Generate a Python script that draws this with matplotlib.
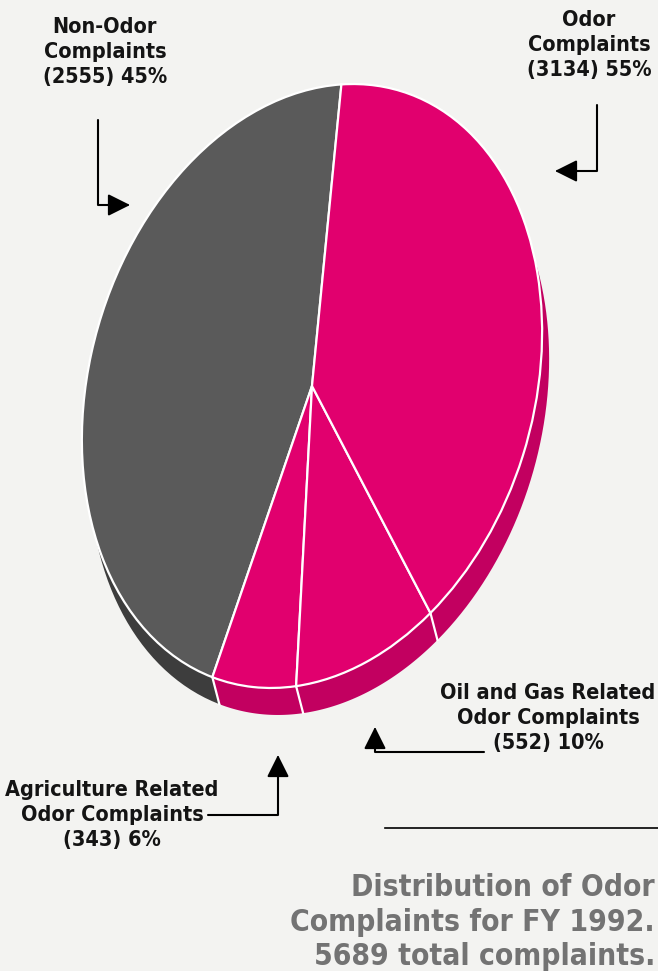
import matplotlib.pyplot as plt
from matplotlib.patches import Polygon
from matplotlib.transforms import Affine2D
import numpy as np

# Data
total = 5689
slice_names = ['Non-Odor', 'Agriculture Related Odor', 'Oil and Gas Related Odor', 'Other Odor']
slice_counts = [2555, 343, 552, 2239]
odor_count = 3134
top_colors = ['#5a5a5a', '#e1006e', '#e1006e', '#e1006e']
side_colors = ['#3d3d3d', '#c20060', '#c20060', '#c20060']

H = 971
fig = plt.figure(figsize=(6.58, 9.71), dpi=100)
fig.patch.set_facecolor('#f3f3f1')
ax = fig.add_axes([0, 0, 1, 1])
ax.set_facecolor('#f3f3f1')

# tilted ellipse standing in for the 3D disc
cx, cy = 312, H - 386
semi_major, semi_minor, tilt = 308, 222, -16.5
depth = (7, -27)
tr = Affine2D().scale(semi_minor, semi_major).rotate_deg(tilt).translate(cx, cy)

wedges, _ = ax.pie(slice_counts, startangle=105, counterclock=True, colors=top_colors,
                   wedgeprops=dict(edgecolor='white', linewidth=1.6), frame=True)
for w in wedges:
    w.set_transform(tr + ax.transData)
    w.set_zorder(3)

# side band of the disc
for w, c in zip(wedges, side_colors):
    t = np.radians(np.linspace(w.theta1, w.theta2, 80))
    rim = tr.transform(np.column_stack([np.cos(t), np.sin(t)]))
    low = rim + np.array(depth)
    ax.add_patch(Polygon(np.vstack([rim, low[::-1]]), closed=True, facecolor=c,
                         edgecolor='none', zorder=1))
    p0 = tr.transform([np.cos(t[0]), np.sin(t[0])])
    ax.plot([p0[0], p0[0] + depth[0]], [p0[1], p0[1] + depth[1]], color='white',
            lw=1.6, zorder=2)

ax.set_xlim(0, 658)
ax.set_ylim(0, H)
ax.set_aspect('auto')
ax.axis('off')

fnt = ['DejaVu Sans']
lbl = dict(ha='center', va='center', fontsize=15.5, fontweight='bold', family=fnt,
           fontstretch='condensed', color='#141414', linespacing=1.3)

def pct(n):
    return round(100 * n / total)

ax.text(105, H - 52, 'Non-Odor\nComplaints\n(%d) %d%%' % (slice_counts[0], pct(slice_counts[0])), **lbl)
ax.text(589, H - 45, 'Odor\nComplaints\n(%d) %d%%' % (odor_count, pct(odor_count)), **lbl)
ax.text(548, H - 718, 'Oil and Gas Related\nOdor Complaints\n(%d) %d%%' % (slice_counts[2], pct(slice_counts[2])), **lbl)
ax.text(112, H - 815, 'Agriculture Related\nOdor Complaints\n(%d) %d%%' % (slice_counts[1], pct(slice_counts[1])), **lbl)

arrow = dict(arrowstyle='-|>,head_length=0.9,head_width=0.45', color='black', lw=1.5,
             mutation_scale=15, shrinkA=0, shrinkB=0)
ax.annotate('', xy=(130, H - 205), xytext=(98, H - 120),
            arrowprops=dict(connectionstyle='angle,angleA=90,angleB=0,rad=0', **arrow))
ax.annotate('', xy=(555, H - 171), xytext=(597, H - 105),
            arrowprops=dict(connectionstyle='angle,angleA=90,angleB=0,rad=0', **arrow))
ax.annotate('', xy=(375, H - 727), xytext=(484, H - 752),
            arrowprops=dict(connectionstyle='angle,angleA=0,angleB=90,rad=0', **arrow))
ax.annotate('', xy=(278, H - 755), xytext=(208, H - 815),
            arrowprops=dict(connectionstyle='angle,angleA=0,angleB=90,rad=0', **arrow))

ax.plot([385, 658], [H - 828, H - 828], color='black', lw=1.2)

ax.text(655, H - 922, 'Distribution of Odor\nComplaints for FY 1992.\n%d total complaints.' % total,
        ha='right', va='center', multialignment='right', fontsize=21.5, fontweight='bold',
        family=fnt, fontstretch='condensed', color='#737373', linespacing=1.25)

fig.savefig('out.png', dpi=100, facecolor=fig.get_facecolor())
